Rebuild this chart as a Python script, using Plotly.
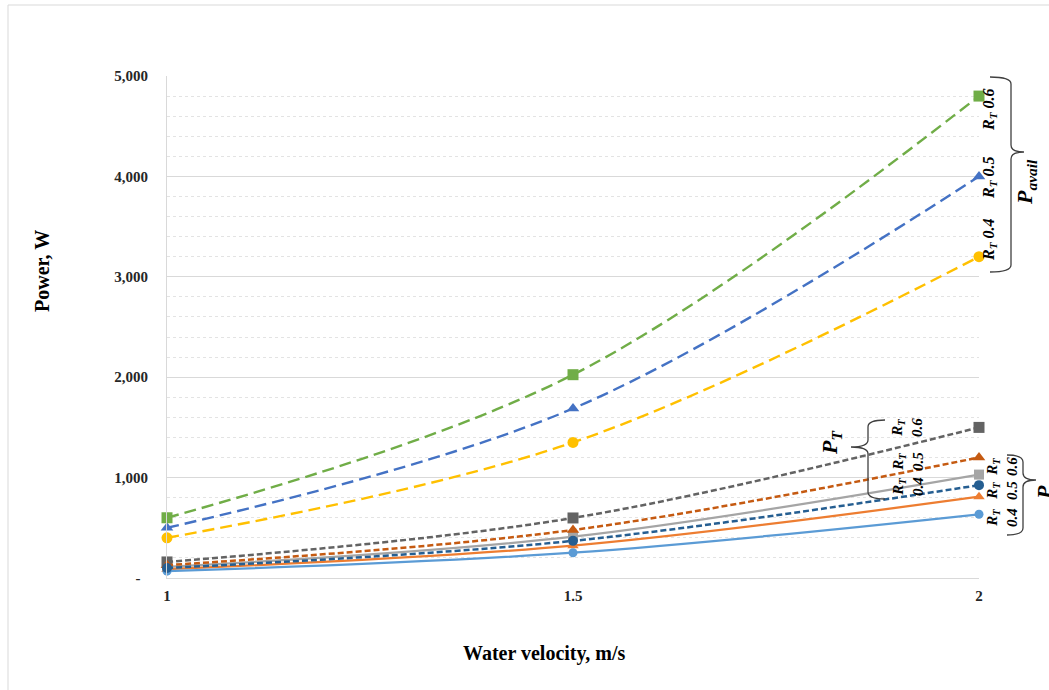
import plotly.graph_objects as go

# ---------------- data ----------------
velocity = [1, 1.5, 2]
avail_06 = [600, 2025, 4800]
avail_05 = [500, 1688, 4000]
avail_04 = [400, 1350, 3200]
pt_06 = [160, 598, 1500]
pt_05 = [128, 478, 1200]
pt_04 = [100, 370, 925]
pe_06 = [110, 412, 1030]
pe_05 = [88, 322, 810]
pe_04 = [68, 252, 635]
y_tickvals = [0, 1000, 2000, 3000, 4000, 5000]
y_ticktext = ["-\u00a0\u00a0", "1,000", "2,000", "3,000", "4,000", "5,000"]
x_tickvals = [1, 1.5, 2]
x_ticktext = ["1", "1.5", "2"]

FONT = "Liberation Serif, Times New Roman, serif"
W, H = 1049, 690
L, R, T, B = 167, 979, 76, 578


def px(x):
    return (x - L) / (R - L)


def py(y):
    return (B - y) / (B - T)


fig = go.Figure()

series = [
    (pe_06, "#A5A5A5", "solid", "square", 10, 2.25),
    (pe_05, "#ED7D31", "solid", "triangle-up", 10, 2.25),
    (pe_04, "#5B9BD5", "solid", "circle", 9, 2.25),
    (pt_06, "#636363", "6px,3px", "square", 11, 2.5),
    (pt_05, "#C55A11", "6px,3px", "triangle-up", 11, 2.5),
    (pt_04, "#255E91", "6px,3px", "circle", 10, 2.5),
    (avail_04, "#FFC000", "12px,6px", "circle", 11, 2.4),
    (avail_05, "#4472C4", "12px,6px", "triangle-up", 11, 2.4),
    (avail_06, "#70AD47", "12px,6px", "square", 11, 2.4),
]
for vals, col, dash, sym, ms, lw in series:
    fig.add_trace(go.Scatter(
        x=velocity, y=vals, mode="lines+markers",
        line=dict(color=col, width=lw, dash=dash, shape="spline", smoothing=1),
        marker=dict(color=col, symbol=sym, size=ms),
        showlegend=False, cliponaxis=False,
    ))

fig.update_layout(
    width=W, height=H, autosize=False,
    margin=dict(l=L, r=W - R, t=T, b=H - B),
    paper_bgcolor="white", plot_bgcolor="white",
    font=dict(family=FONT, color="#262626"),
)
fig.update_xaxes(
    range=[1, 2], tickvals=x_tickvals, ticktext=x_ticktext,
    showgrid=False, zeroline=False, showline=True, linecolor="#D9D9D9", linewidth=1,
    ticks="", ticklabelstandoff=4,
    tickfont=dict(family=FONT, size=15, color="#262626", weight="bold"),
)
fig.update_yaxes(
    range=[0, 5000], tickvals=y_tickvals, ticktext=y_ticktext,
    showgrid=True, gridcolor="#D9D9D9", gridwidth=1,
    minor=dict(dtick=200, showgrid=True, gridcolor="#E3E3E3", griddash="dot", gridwidth=1),
    zeroline=False, showline=True, linecolor="#D9D9D9", linewidth=1,
    ticks="", ticklabelstandoff=15,
    tickfont=dict(family=FONT, size=15, color="#262626", weight="bold"),
)


def P(x, y):
    return f"{px(x):.5f},{py(y):.5f}"


def brace(xend, xline, top, cusp, bot, tip, r=7):
    return (
        f"M {P(xend, top)} Q {P(xline, top)} {P(xline, top + r)} "
        f"L {P(xline, cusp - r)} Q {P(xline, cusp)} {P(tip, cusp)} "
        f"Q {P(xline, cusp)} {P(xline, cusp + r)} "
        f"L {P(xline, bot - r)} Q {P(xline, bot)} {P(xend, bot)}"
    )


shapes = [
    dict(type="path", xref="paper", yref="paper",
         path=brace(990, 1011, 77, 152, 272, 1024), line=dict(color="#404040", width=1.3)),
    dict(type="path", xref="paper", yref="paper",
         path=brace(885, 868, 420, 447, 499, 851), line=dict(color="#404040", width=1.3)),
    dict(type="path", xref="paper", yref="paper",
         path=brace(1007, 1023, 455, 480, 535, 1036), line=dict(color="#404040", width=1.3)),
    # chart outer border (top and left edges visible)
    dict(type="line", xref="paper", yref="paper", x0=px(8), x1=px(1060), y0=py(5), y1=py(5),
         line=dict(color="#D9D9D9", width=1)),
    dict(type="line", xref="paper", yref="paper", x0=px(8), x1=px(8), y0=py(5), y1=py(700),
         line=dict(color="#D9D9D9", width=1)),
]
fig.update_layout(shapes=shapes)


def ann(text, x, y, size=16, angle=-90):
    fig.add_annotation(
        text=text, xref="paper", yref="paper", x=px(x), y=py(y),
        xanchor="center", yanchor="middle", showarrow=False, textangle=angle,
        font=dict(family=FONT, size=size, color="#000000"),
    )


RT = "<b><i>R<sub>T</sub> {}</i></b>"
RT2 = "<b><i>R<sub>T</sub><br>{}</i></b>"
ann(RT.format("0.6"), 989, 110)
ann(RT.format("0.5"), 989, 178)
ann(RT.format("0.4"), 989, 240)
ann("<b><i>P<sub>avail</sub></i></b>", 1026, 182, size=22)
ann("<b><i>P<sub>T</sub></i></b>", 831, 443, size=22)
ann(RT2.format("0.6"), 907, 428, size=15)
ann(RT2.format("0.5"), 908, 462, size=15)
ann(RT2.format("0.4"), 908, 487, size=15)
ann(RT2.format("0.6"), 1002, 467, size=15)
ann(RT2.format("0.5"), 1002, 491, size=15)
ann(RT2.format("0.4"), 1002, 518, size=15)
ann("<b><i>P<sub>e</sub></i></b>", 1046, 490, size=22)

# axis titles
ann("<b>Power, W</b>", 42, 271, size=20)
ann("<b>Water velocity, m/s</b>", 544, 653, size=20, angle=0)

fig.write_html("out.html", post_script="document.body.style.margin='0';",
               config={"displayModeBar": False})
